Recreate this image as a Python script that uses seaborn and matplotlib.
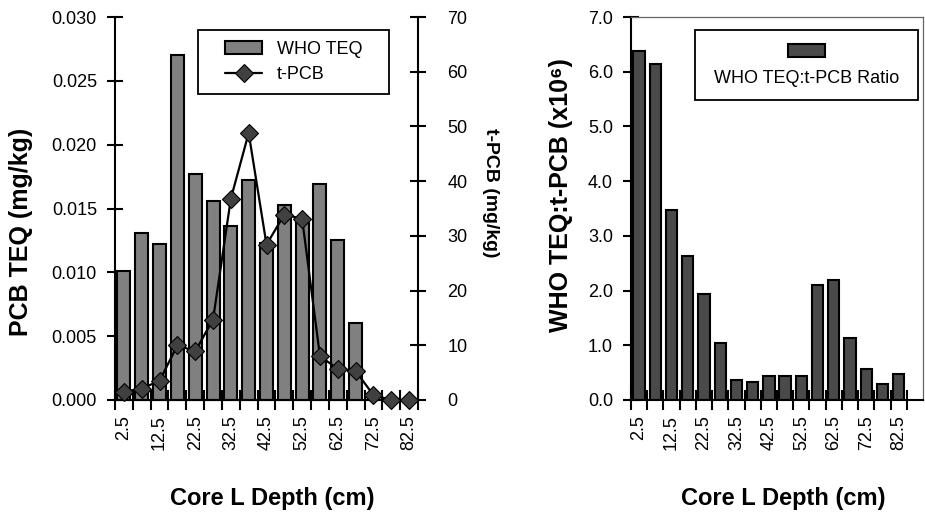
import numpy as np
import pandas as pd
import matplotlib
matplotlib.use("Agg")
import matplotlib.pyplot as plt
from matplotlib.patches import Patch
from matplotlib.lines import Line2D
import seaborn as sns

# ---- data ----
depth = ["2.5", "7.5", "12.5", "17.5", "22.5", "27.5", "32.5", "37.5", "42.5",
         "47.5", "52.5", "57.5", "62.5", "67.5", "72.5", "77.5", "82.5"]
who_teq = [0.0101, 0.0131, 0.0122, 0.0270, 0.0177, 0.0156, 0.0136, 0.0172, 0.0123,
           0.0153, 0.0141, 0.0169, 0.0125, 0.0060, 0.0, 0.0, 0.0]
tpcb = [1.5, 2.1, 3.5, 10.0, 8.9, 14.7, 36.8, 48.8, 28.4,
        33.9, 33.1, 8.0, 5.7, 5.3, 0.9, 0.0, 0.0]
ratio = [6.38, 6.15, 3.48, 2.63, 1.94, 1.05, 0.36, 0.33, 0.43,
         0.44, 0.43, 2.11, 2.20, 1.14, 0.56, 0.29, 0.47]
shown_ticks = ["2.5", "12.5", "22.5", "32.5", "42.5", "52.5", "62.5", "72.5", "82.5"]
teq_ticks = [0.000, 0.005, 0.010, 0.015, 0.020, 0.025, 0.030]
tpcb_ticks = [0, 10, 20, 30, 40, 50, 60, 70]
ratio_ticks = [0.0, 1.0, 2.0, 3.0, 4.0, 5.0, 6.0, 7.0]

sns.set_style("ticks")
plt.rcParams["font.family"] = ["Liberation Sans", "DejaVu Sans"]
for k in ("text.color", "axes.labelcolor", "xtick.color", "ytick.color",
          "axes.edgecolor"):
    plt.rcParams[k] = "black"

df = pd.DataFrame({"depth": depth, "teq": who_teq, "tpcb": tpcb, "ratio": ratio})
pos = np.arange(len(depth))
shown_pos = [depth.index(t) for t in shown_ticks]

W, H = 925, 513
fig = plt.figure(figsize=(W / 100, H / 100), dpi=100)
ax1 = fig.add_axes([115 / W, 1 - 400 / H, 303 / W, 383 / H])
ax3 = fig.add_axes([631 / W, 1 - 400 / H, 292 / W, 383 / H])

TICK = 13
BAR1 = "#808080"
BAR2 = "#4a4a4a"
PX = 100 / 72  # pixels per point

# ---------------- left chart ----------------
sns.barplot(data=df, x="depth", y="teq", order=depth, ax=ax1, color=BAR1,
            edgecolor="black", linewidth=1.5, width=0.73, saturation=1)
ax2 = ax1.twinx()
sns.lineplot(x=pos, y=df["tpcb"], ax=ax2, color="black", lw=1.6, marker="D",
             ms=9, markerfacecolor="#404040", markeredgecolor="black",
             markeredgewidth=0.8, clip_on=False, zorder=5)

ax1.set_ylim(0, 0.030)
ax1.set_yticks(teq_ticks)
ax1.set_yticklabels([f"{v:.3f}" for v in teq_ticks])
ax2.set_ylim(0, 70)
ax2.set_yticks(tpcb_ticks)
ax2.set_yticklabels([str(v) for v in tpcb_ticks])

for ax in (ax1, ax3):
    ax.set_xlim(-0.5, len(depth) - 0.5)
    ax.set_xticks(np.arange(-0.5, len(depth), 1))
    ax.set_xticklabels([])
    ax.set_xticks(shown_pos, minor=True)
    ax.set_xticklabels(shown_ticks, minor=True, rotation=90, fontsize=TICK)
    ax.tick_params(axis="x", which="major", direction="inout", length=14,
                   width=1.5, color="black")
    ax.tick_params(axis="x", which="minor", length=0, pad=11)
    ax.tick_params(axis="y", direction="inout", length=12, width=1.5,
                   labelsize=TICK, pad=7)
    ax.set_xlabel("Core L Depth (cm)", fontsize=17, fontweight="bold")
    ax.xaxis.set_label_coords(0.518 if ax is ax1 else 0.522, -0.228)
    ax.xaxis.label.set_va("top")

ax2.tick_params(axis="y", direction="inout", length=12, width=1.5,
                labelsize=TICK, pad=15)
ax2.set_xlabel("")

for s in ("top", "right"):
    ax1.spines[s].set_visible(False)
for s in ("top", "left"):
    ax2.spines[s].set_visible(False)
ax2.spines["right"].set_linewidth(1.5)
ax2.spines["right"].set_color("black")
for s in ("left", "bottom"):
    ax1.spines[s].set_linewidth(1.5)
    ax1.spines[s].set_color("black")

ax1.set_ylabel("PCB TEQ (mg/kg)", fontsize=18, fontweight="bold")
ax1.yaxis.set_label_coords(-0.27, 0.44)
ax2.set_ylabel("t-PCB (mg/kg)", fontsize=14, fontweight="bold",
               rotation=270, va="bottom", ha="center")
ax2.yaxis.set_label_coords(1.211, 0.54)

h1 = Patch(facecolor=BAR1, edgecolor="black", linewidth=1.5)
h2 = Line2D([], [], color="black", lw=1.6, marker="D", ms=9,
            markerfacecolor="#404040", markeredgecolor="black", markeredgewidth=0.8)
bp1 = 0.6
leg1 = ax2.legend([h1, h2], ["WHO TEQ", "t-PCB"], loc="upper left",
                  bbox_to_anchor=(198 / W, 1 - 30 / H), bbox_transform=fig.transFigure,
                  borderaxespad=0, fontsize=TICK, frameon=True, fancybox=False,
                  framealpha=1, edgecolor="black", borderpad=bp1,
                  labelspacing=0.45, handlelength=2.1, handletextpad=0.8,
                  handleheight=0.7, alignment="center")
leg1.get_frame().set_linewidth(1.3)
leg1.set_zorder(10)
leg1._legend_box.width = 191 - 2 * bp1 * TICK * PX

# ---------------- right chart ----------------
sns.barplot(data=df, x="depth", y="ratio", order=depth, ax=ax3, color=BAR2,
            edgecolor="black", linewidth=1.5, width=0.7, saturation=1)
ax3.set_ylim(0, 7.0)
ax3.set_yticks(ratio_ticks)
ax3.set_yticklabels([f"{v:.1f}" for v in ratio_ticks])
ax3.set_ylabel("WHO TEQ:t-PCB (x10⁶)", fontsize=18, fontweight="bold")
ax3.yaxis.set_label_coords(-0.198, 0.535)
for s in ("left", "bottom"):
    ax3.spines[s].set_linewidth(1.5)
    ax3.spines[s].set_color("black")
for s in ("top", "right"):
    ax3.spines[s].set_visible(True)
    ax3.spines[s].set_linewidth(0.9)
    ax3.spines[s].set_color("#666666")

h3 = Patch(facecolor=BAR2, edgecolor="black", linewidth=1.5)
bp2 = 0.75
leg2 = ax3.legend([h3], [""], title="WHO TEQ:t-PCB Ratio", loc="upper left",
                  bbox_to_anchor=(695 / W, 1 - 30 / H), bbox_transform=fig.transFigure,
                  borderaxespad=0, fontsize=TICK, title_fontsize=TICK, frameon=True,
                  fancybox=False, framealpha=1, edgecolor="black", borderpad=bp2,
                  handlelength=2.1, handletextpad=0.0, handleheight=0.7,
                  alignment="center")
leg2.get_frame().set_linewidth(1.3)
# put the swatch above the label, as in the reference
leg2._legend_box._children = leg2._legend_box._children[::-1]
leg2._legend_box.width = 223 - 2 * bp2 * TICK * PX

fig.savefig("out.png", dpi=100)
